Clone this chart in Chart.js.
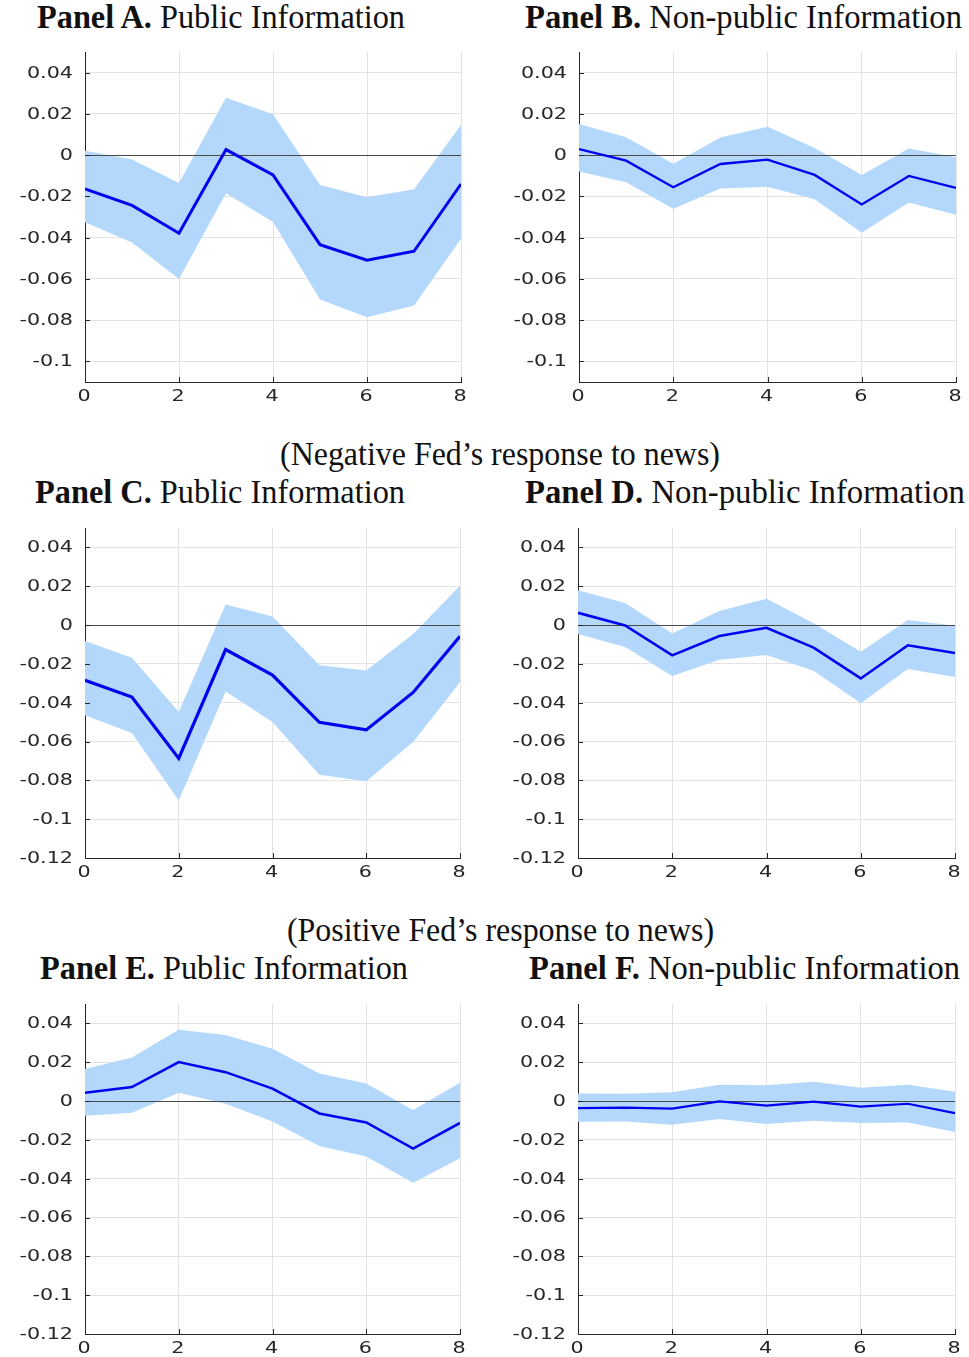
<!DOCTYPE html>
<html>
<head>
<meta charset="utf-8">
<script src="https://cdn.jsdelivr.net/npm/chart.js@4.4.1/dist/chart.umd.min.js"></script>
<style>
  html, body { margin: 0; padding: 0; background: #ffffff; }
  #page { position: relative; width: 969px; height: 1357px; overflow: hidden; }
  canvas { position: absolute; }
  .ttl {
    position: absolute; white-space: nowrap; color: #111111;
    font-family: "Liberation Serif", "Times New Roman", serif;
    font-size: 33px; line-height: 33px; transform-origin: 0 0;
  }
  .ttl b { font-weight: bold; }
</style>
</head>
<body>
<div id="page"></div>
<script>
// Forecast horizons shared by every panel
const horizons = [0, 1, 2, 3, 4, 5, 6, 7, 8];
const xTicks = [0, 2, 4, 6, 8];
const yTicks = [-0.12, -0.1, -0.08, -0.06, -0.04, -0.02, 0, 0.02, 0.04];

// Panel A: public information, all announcements
const pubAllIrf   = [-0.0164, -0.0244, -0.0379, 0.0027, -0.0096, -0.0434, -0.0509, -0.0466, -0.0140];
const pubAllUpper = [0.0021, -0.0021, -0.0135, 0.0278, 0.0198, -0.0145, -0.0204, -0.0165, 0.0146];
const pubAllLower = [-0.0326, -0.0424, -0.0601, -0.0185, -0.0324, -0.0700, -0.0786, -0.0729, -0.0406];

// Panel B: non-public information, all announcements
const privAllIrf   = [0.0029, -0.0027, -0.0156, -0.0043, -0.0022, -0.0096, -0.0239, -0.0101, -0.0159];
const privAllUpper = [0.0151, 0.0087, -0.0042, 0.0085, 0.0137, 0.0034, -0.0096, 0.0032, -0.0010];
const privAllLower = [-0.0079, -0.0132, -0.0260, -0.0162, -0.0153, -0.0214, -0.0376, -0.0230, -0.0289];

// Panel C: public information, negative Fed response
const pubNegIrf   = [-0.0284, -0.0371, -0.0687, -0.0126, -0.0258, -0.0501, -0.0540, -0.0347, -0.0058];
const pubNegUpper = [-0.0082, -0.0168, -0.0448, 0.0106, 0.0044, -0.0207, -0.0234, -0.0046, 0.0202];
const pubNegLower = [-0.0465, -0.0556, -0.0904, -0.0342, -0.0499, -0.0771, -0.0805, -0.0602, -0.0294];

// Panel D: non-public information, negative Fed response
const privNegIrf   = [0.0063, -0.0002, -0.0156, -0.0056, -0.0014, -0.0116, -0.0275, -0.0104, -0.0144];
const privNegUpper = [0.0179, 0.0113, -0.0043, 0.0072, 0.0135, 0.0009, -0.0137, 0.0026, -0.0003];
const privNegLower = [-0.0046, -0.0113, -0.0262, -0.0179, -0.0154, -0.0236, -0.0403, -0.0226, -0.0268];

// Panel E: public information, positive Fed response
const pubPosIrf   = [0.0043, 0.0072, 0.0201, 0.0149, 0.0064, -0.0064, -0.0110, -0.0245, -0.0113];
const pubPosUpper = [0.0165, 0.0225, 0.0367, 0.0340, 0.0270, 0.0142, 0.0091, -0.0046, 0.0094];
const pubPosLower = [-0.0076, -0.0060, 0.0043, -0.0014, -0.0105, -0.0232, -0.0285, -0.0421, -0.0295];

// Panel F: non-public information, positive Fed response
const privPosIrf   = [-0.0036, -0.0034, -0.0039, -0.0002, -0.0024, -0.0003, -0.0029, -0.0014, -0.0062];
const privPosUpper = [0.0039, 0.0038, 0.0046, 0.0084, 0.0081, 0.0100, 0.0069, 0.0084, 0.0048];
const privPosLower = [-0.0106, -0.0105, -0.0122, -0.0093, -0.0118, -0.0101, -0.0113, -0.0110, -0.0160];

// Vertical axis limits
const yMax = 0.05;
const yMinTop = -0.11;
const yMinLower = -0.12;

const BAND = 'rgb(179, 216, 252)';
const LINE = '#0000f0';
const AXIS = '#262626';
const GRID = '#e3e3e3';

// Plot boxes (left, top, right, bottom) in page pixels
const panels = [
  { box: [85, 52, 461, 382],    yMin: yMinTop,   irf: pubAllIrf,  up: pubAllUpper,  lo: pubAllLower,  lw: 3 },
  { box: [579, 52, 956, 382],   yMin: yMinTop,   irf: privAllIrf, up: privAllUpper, lo: privAllLower, lw: 2.3 },
  { box: [85, 528, 460, 858],   yMin: yMinLower, irf: pubNegIrf,  up: pubNegUpper,  lo: pubNegLower,  lw: 3.2 },
  { box: [578, 528, 955, 858],  yMin: yMinLower, irf: privNegIrf, up: privNegUpper, lo: privNegLower, lw: 2.6 },
  { box: [85, 1004, 460, 1334], yMin: yMinLower, irf: pubPosIrf,  up: pubPosUpper,  lo: pubPosLower,  lw: 2.6 },
  { box: [578, 1004, 955, 1334],yMin: yMinLower, irf: privPosIrf, up: privPosUpper, lo: privPosLower, lw: 2.2 }
];

const titles = [
  { bold: 'Panel A.', rest: ' Public Information',      left: 37,  right: 405, base: 29 },
  { bold: 'Panel B.', rest: ' Non-public Information',  left: 525, right: 962, base: 29 },
  { bold: '',         rest: '(Negative Fed\u2019s response to news)', left: 280, right: 720, base: 466 },
  { bold: 'Panel C.', rest: ' Public Information',      left: 35,  right: 405, base: 504 },
  { bold: 'Panel D.', rest: ' Non-public Information',  left: 525, right: 965, base: 504 },
  { bold: '',         rest: '(Positive Fed\u2019s response to news)', left: 287, right: 714, base: 942 },
  { bold: 'Panel E.', rest: ' Public Information',      left: 40,  right: 408, base: 980 },
  { bold: 'Panel F.', rest: ' Non-public Information',  left: 529, right: 960, base: 980 }
];

const AXIS_W = 85, AXIS_H = 28, PAD_T = 12, PAD_R = 19;
const page = document.getElementById('page');

// Headings drawn as HTML text, squeezed to their column width
titles.forEach(t => {
  const el = document.createElement('div');
  el.className = 'ttl';
  el.innerHTML = (t.bold ? '<b>' + t.bold + '</b>' : '') + t.rest;
  page.appendChild(el);
  const fs = 33;
  el.style.left = t.left + 'px';
  el.style.top = (t.base - 0.8375 * fs) + 'px';
  const w = el.getBoundingClientRect().width;
  el.style.transform = 'scaleX(' + ((t.right - t.left) / w) + ')';
});

const fmt = v => String(parseFloat(Number(v).toFixed(2)));
const LABEL_FONT = '15px "DejaVu Sans", sans-serif';
const LABEL_STRETCH = 1.38;

// Zero reference line, drawn over the band and under the response line
const zeroLinePlugin = {
  id: 'zeroLine',
  beforeDatasetDraw(chart, args) {
    if (args.index !== 0) return;
    const { ctx, chartArea, scales } = chart;
    const y = Math.round(scales.y.getPixelForValue(0)) + 0.5;
    ctx.save();
    ctx.strokeStyle = '#4a4a4a';
    ctx.lineWidth = 1;
    ctx.beginPath();
    ctx.moveTo(chartArea.left, y);
    ctx.lineTo(chartArea.right, y);
    ctx.stroke();
    ctx.restore();
  }
};

// Inward tick marks plus wide-set tick labels placed from the scales
const axisDecorPlugin = {
  id: 'axisDecor',
  afterDraw(chart) {
    const { ctx, chartArea, scales } = chart;
    ctx.save();
    ctx.strokeStyle = AXIS;
    ctx.lineWidth = 1;
    ctx.beginPath();
    scales.y.ticks.forEach(t => {
      const y = Math.round(scales.y.getPixelForValue(t.value)) + 0.5;
      ctx.moveTo(chartArea.left, y);
      ctx.lineTo(chartArea.left + 5, y);
    });
    scales.x.ticks.forEach(t => {
      const x = Math.round(scales.x.getPixelForValue(t.value)) + 0.5;
      ctx.moveTo(x, chartArea.bottom);
      ctx.lineTo(x, chartArea.bottom - 5);
    });
    ctx.stroke();

    ctx.fillStyle = AXIS;
    ctx.font = LABEL_FONT;
    ctx.textBaseline = 'middle';
    scales.y.ticks.forEach(t => {
      ctx.save();
      ctx.translate(chartArea.left - 12, scales.y.getPixelForValue(t.value) + 1);
      ctx.scale(LABEL_STRETCH, 1);
      ctx.textAlign = 'right';
      ctx.fillText(fmt(t.value), 0, 0);
      ctx.restore();
    });
    scales.x.ticks.forEach(t => {
      ctx.save();
      ctx.translate(scales.x.getPixelForValue(t.value) - 1, chartArea.bottom + 15.5);
      ctx.scale(LABEL_STRETCH, 1);
      ctx.textAlign = 'center';
      ctx.fillText(fmt(t.value), 0, 0);
      ctx.restore();
    });
    ctx.restore();
  }
};

const toPoints = vals => horizons.map((h, i) => ({ x: h, y: vals[i] }));

panels.forEach(p => {
  const [l, t, r, b] = p.box;
  const cv = document.createElement('canvas');
  const cl = l - AXIS_W, ct = t - PAD_T;
  const cw = r - cl + PAD_R, ch = b - ct + AXIS_H;
  cv.width = cw; cv.height = ch;
  cv.style.left = cl + 'px'; cv.style.top = ct + 'px';
  cv.style.width = cw + 'px'; cv.style.height = ch + 'px';
  page.appendChild(cv);

  new Chart(cv, {
    type: 'line',
    data: {
      datasets: [
        // response line first so it is painted last (on top)
        { data: toPoints(p.irf), borderColor: LINE, borderWidth: p.lw, pointRadius: 0,
          fill: false, tension: 0, borderJoinStyle: 'miter' },
        { data: toPoints(p.up), borderColor: 'transparent', borderWidth: 0, pointRadius: 0,
          backgroundColor: BAND, fill: '+1', tension: 0 },
        { data: toPoints(p.lo), borderColor: 'transparent', borderWidth: 0, pointRadius: 0,
          fill: false, tension: 0 }
      ]
    },
    options: {
      responsive: false,
      animation: false,
      devicePixelRatio: 1,
      layout: { padding: { top: PAD_T, right: PAD_R, left: 0, bottom: 0 } },
      plugins: { legend: { display: false }, tooltip: { enabled: false } },
      scales: {
        x: {
          type: 'linear', min: 0, max: 8,
          afterBuildTicks: s => { s.ticks = xTicks.map(v => ({ value: v })); },
          afterFit: s => { s.height = AXIS_H; s.paddingLeft = 0; s.paddingRight = 0; },
          grid: { color: GRID, lineWidth: 1, drawTicks: false },
          border: { display: true, color: AXIS, width: 1 },
          ticks: { display: false }
        },
        y: {
          min: p.yMin, max: yMax,
          afterBuildTicks: s => {
            s.ticks = yTicks.filter(v => v >= p.yMin - 1e-9).map(v => ({ value: v }));
          },
          afterFit: s => { s.width = AXIS_W; s.paddingTop = 0; s.paddingBottom = 0; },
          grid: { color: GRID, lineWidth: 1, drawTicks: false },
          border: { display: true, color: AXIS, width: 1 },
          ticks: { display: false }
        }
      }
    },
    plugins: [zeroLinePlugin, axisDecorPlugin]
  });
});
</script>
</body>
</html>
